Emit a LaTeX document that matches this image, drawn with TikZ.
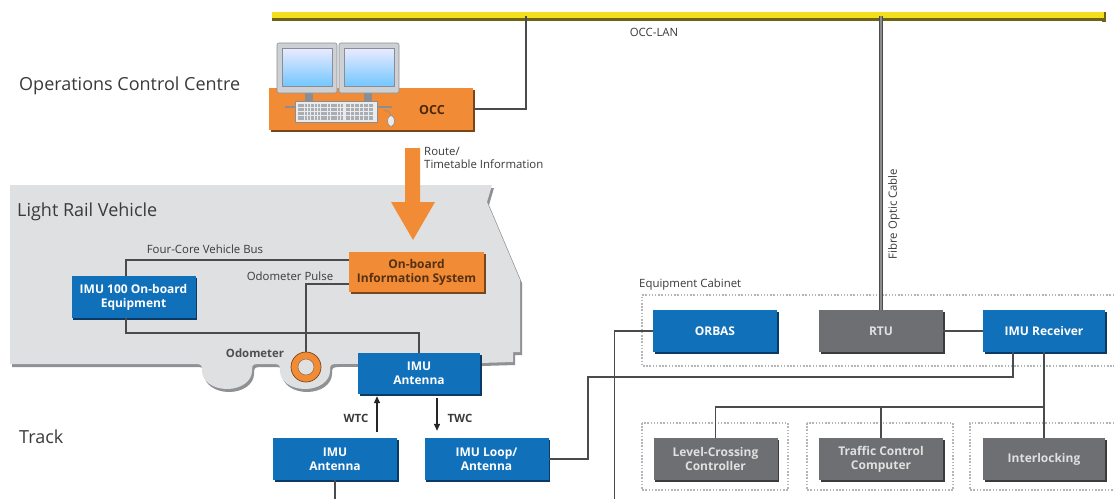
\documentclass[tikz,border=0pt]{standalone}
\usepackage{fontspec}
\setmainfont{Open Sans}
\usetikzlibrary{shadows,calc,arrows.meta}

\definecolor{sblue}{HTML}{1170BA}
\definecolor{sblueD}{HTML}{0B3A66}
\definecolor{sorange}{HTML}{F28B35}
\definecolor{sorangeD}{HTML}{7A4519}
\definecolor{sgray}{HTML}{6E6F72}
\definecolor{sgrayD}{HTML}{3A3B3D}
\definecolor{wirec}{HTML}{4A4B4D}
\definecolor{txt}{HTML}{3A3A3A}
\definecolor{bodyc}{HTML}{DEE0E2}
\definecolor{bodyD}{HTML}{8F9194}
\definecolor{lanY}{HTML}{F3DF1E}
\definecolor{lanD}{HTML}{6E6414}
\definecolor{cabc}{HTML}{B3B5B8}
\definecolor{devc}{HTML}{CDD1D6}
\definecolor{devD}{HTML}{8A8E93}
\definecolor{keyc}{HTML}{A9AEB4}

\newcommand{\lrvoutline}{(10,185) -- (492,185) -- (487,202) -- (520,280) -- (520,352)
  -- (513,352) -- (513,362) -- (480,363) -- (336,364)
  .. controls (330,364) and (330,366) .. (330,371)
  .. controls (330,381) and (319,389) .. (305,389)
  .. controls (291,389) and (280,381) .. (280,371)
  .. controls (280,366) and (280,364) .. (274,364)
  -- (258,364)
  .. controls (252,364) and (252,366) .. (252,371)
  .. controls (252,381) and (241,389) .. (227,389)
  .. controls (213,389) and (202,381) .. (202,371)
  .. controls (202,366) and (202,364) .. (196,364)
  -- (10,364) -- cycle}

\tikzset{
  box/.style={minimum width=124pt, minimum height=42pt, inner sep=1pt, align=center,
    font=\fontsize{12}{14}\selectfont\bfseries},
  bluebox/.style={box, fill=sblue, text=white,
    drop shadow={shadow xshift=1.6pt, shadow yshift=-2pt, opacity=1, fill=sblueD}},
  graybox/.style={box, fill=sgray, text=black!12,
    drop shadow={shadow xshift=1.6pt, shadow yshift=-2pt, opacity=1, fill=sgrayD}},
  orangebox/.style={box, fill=sorange, text=sorangeD!70!black,
    drop shadow={shadow xshift=1.6pt, shadow yshift=-2pt, opacity=1, fill=sorangeD}},
  wire/.style={draw=wirec, line width=1.3pt},
  cabinet/.style={draw=cabc, line width=1.2pt, dash pattern=on 1.5pt off 1.7pt},
  lbl/.style={text=txt, inner sep=0pt, font=\fontsize{11.4}{13.2}\selectfont},
  bold lbl/.style={text=txt, inner sep=0pt, font=\fontsize{11.4}{13.2}\selectfont\bfseries},
  big/.style={text=txt, inner sep=0pt, font=\fontsize{18}{21}\selectfont},
}

\begin{document}
\begin{tikzpicture}[x=1pt,y=-1pt]
\useasboundingbox (0,0) rectangle (1114,499);
\fill[white] (0,0) rectangle (1114,499);

% ---------------- OCC-LAN backbone ----------------
\coordinate (lanL) at (272,16);
\coordinate (lanR) at (1106,16);
\coordinate (lanTap) at (526,16);
\fill[lanD] (272,16) rectangle (1106,21);
\fill[lanD] (1102,12) rectangle (1106,22);
\fill[lanY] (272,12) rectangle (1104,17.5);
\node[lbl] (lanlbl) at (654,32) {OCC-LAN};

% ---------------- Operations Control Centre ----------------
\node[big, anchor=west] (occlbl) at (19,86) {Operations Control Centre};
\node[box, minimum width=204pt, minimum height=42pt, fill=sorange,
  drop shadow={shadow xshift=1.6pt, shadow yshift=-2pt, opacity=1, fill=sorangeD}] (occ) at (371,109) {};
\draw[wire] (occ.east) -| (lanTap);

% workstation: monitors, keyboard, mouse
\fill[devD] (305,92) rectangle (313,101);
\fill[devD] (364,92) rectangle (372,101);
\draw[devD, line width=1.4pt] (285,107) -- (392,107);
\foreach \mx in {277,339}{
  \filldraw[fill=devc, draw=devD, line width=0.6pt, rounded corners=2pt] (\mx,43) rectangle ++(60,50);
  \shade[top color=blue!8!white, bottom color=blue!40!cyan!55!white, draw=devD, line width=0.4pt]
    (\mx+5,48) rectangle ++(50,38);
}
\filldraw[fill=black!8, draw=devD, line width=0.6pt] (295,101) rectangle (377,122);
\foreach \r in {0,...,3}{
  \foreach \c in {0,...,13}{
    \fill[keyc] (298+\c*3.3, 103.5+\r*4.3) rectangle ++(2.5,3.1);
  }
  \foreach \c in {0,...,5}{
    \fill[keyc] (346+\c*4.6, 103.5+\r*4.3) rectangle ++(3.6,3.1);
  }
}
\draw[devD, line width=0.6pt] (384,110) .. controls (389,111) and (391,113) .. (391,116);
\filldraw[fill=black!8, draw=devD, line width=0.6pt] (391,121) ellipse [x radius=3.6, y radius=5.5];
\node[bold lbl, font=\fontsize{12.5}{14}\selectfont\bfseries, text=sorangeD!60!black] (occtxt) at (432,110) {OCC};

% ---------------- Light rail vehicle ----------------
\fill[bodyD, shift={(2,3)}] \lrvoutline;
\fill[bodyc] \lrvoutline;
\node[big, anchor=west] (lrvlbl) at (17,212) {Light Rail Vehicle};

% route / timetable information arrow
\fill[sorange] (405,148) -- (420,148) -- (420,202) -- (435,202) -- (413,240)
  -- (391,202) -- (405,202) -- cycle;
\node[lbl, anchor=north west, align=left] (routelbl) at (424,147) {Route/\\Timetable Information};

% on-board units
\node[bluebox] (imu100) at (133.5,297) {IMU 100 On-board\\Equipment};
\node[orangebox, minimum width=135pt, minimum height=40pt] (obis) at (416.5,272) {On-board\\Information System};
\node[bluebox, minimum width=122pt, minimum height=41pt] (antV) at (419,373.5) {IMU\\Antenna};
\node[circle, minimum size=30pt, inner sep=0pt] (odo) at (306,367) {};

\coordinate (busTop) at (126,260);
\coordinate (busBot) at (126,333);
\coordinate (pulse) at (306,284);
\draw[wire] (imu100.north -| busTop) |- (obis.west |- busTop);
\draw[wire] (imu100.south -| busBot) -- (busBot) -| (antV.north);
\draw[wire] (obis.west |- pulse) -| (odo.north);
\node[lbl, anchor=south] (buslbl) at (205,254) {Four-Core Vehicle Bus};
\node[lbl, anchor=south] (pulselbl) at (290,281) {Odometer Pulse};

% odometer wheel sensor
\fill[sorange, even odd rule] (odo.center) circle [radius=15] (odo.center) circle [radius=8];
\draw[sorangeD, line width=0.7pt] (odo.center) circle [radius=15];
\draw[sorangeD!80, line width=0.5pt] (odo.center) circle [radius=8];
\node[bold lbl, text=txt!90] (odolbl) at (255,353) {Odometer};

% ---------------- Track ----------------
\node[big, anchor=west] (tracklbl) at (19,437) {Track};
\node[bluebox] (antT) at (335,459) {IMU\\Antenna};
\node[bluebox] (loop) at (486.5,459) {IMU Loop/\\Antenna};

\coordinate (wtc) at (377,0);
\coordinate (twc) at (437,0);
\draw[draw=black!85, line width=1.3pt, -{Triangle[length=7pt,width=6pt]}, shorten <=6pt, shorten >=2pt]
  (antT.north -| wtc) -- (antV.south -| wtc);
\draw[draw=black!85, line width=1.3pt, -{Triangle[length=7pt,width=6pt]}, shorten <=4pt, shorten >=7pt]
  (antV.south -| twc) -- (loop.north -| twc);
\node[bold lbl] (wtclbl) at (356,418) {WTC};
\node[bold lbl] (twclbl) at (460,418) {TWC};

% ---------------- Equipment cabinet ----------------
\node[lbl, anchor=west] (cablbl) at (639,285) {Equipment Cabinet};
\draw[cabinet] (1114,295) -- (642,295) -- (642,366) -- (1114,366);
\draw[cabinet] (642,423) rectangle (788,490);
\draw[cabinet] (807,423) rectangle (953,490);
\draw[cabinet] (1114,423) -- (970,423) -- (970,490) -- (1114,490);

\node[bluebox] (orbas) at (715,331) {ORBAS};
\node[graybox] (rtu) at (881,331) {RTU};
\node[bluebox, minimum width=122pt] (rx) at (1044,331) {IMU Receiver};
\node[graybox] (lcc) at (715.5,459) {Level-Crossing\\Controller};
\node[graybox] (tcc) at (881,459) {Traffic Control\\Computer};
\node[graybox, minimum width=122pt] (ilk) at (1044,459) {Interlocking};

% fibre optic cable from the LAN to the RTU
\draw[draw=black!70, line width=4pt] (rtu.north) -- (rtu.north |- lanL);
\draw[draw=black!45, line width=2pt] (rtu.north) -- (rtu.north |- lanL);
\node[lbl, rotate=90] (fibrelbl) at (894,214) {Fibre Optic Cable};

% field wiring
\coordinate (trunk) at (588,377);
\coordinate (rxA) at (1013,0);
\coordinate (dist) at (0,407);
\coordinate (bottomEdge) at (0,499);
\draw[wire] (rtu.east) -- (rx.west);
\draw[wire] (loop.east) -| (trunk) -| (rx.south -| rxA);
\draw[wire] (orbas.west) -| ($(orbas.west |- bottomEdge) + (-38,0)$);
\draw[wire] (antT.south) -- (antT.south |- bottomEdge);
\draw[wire] (rx.south) -- (ilk.north);
\draw[wire] (lcc.north) |- (rx.south |- dist);
\draw[wire] (tcc.north) -- (tcc.north |- dist);
\end{tikzpicture}
\end{document}
